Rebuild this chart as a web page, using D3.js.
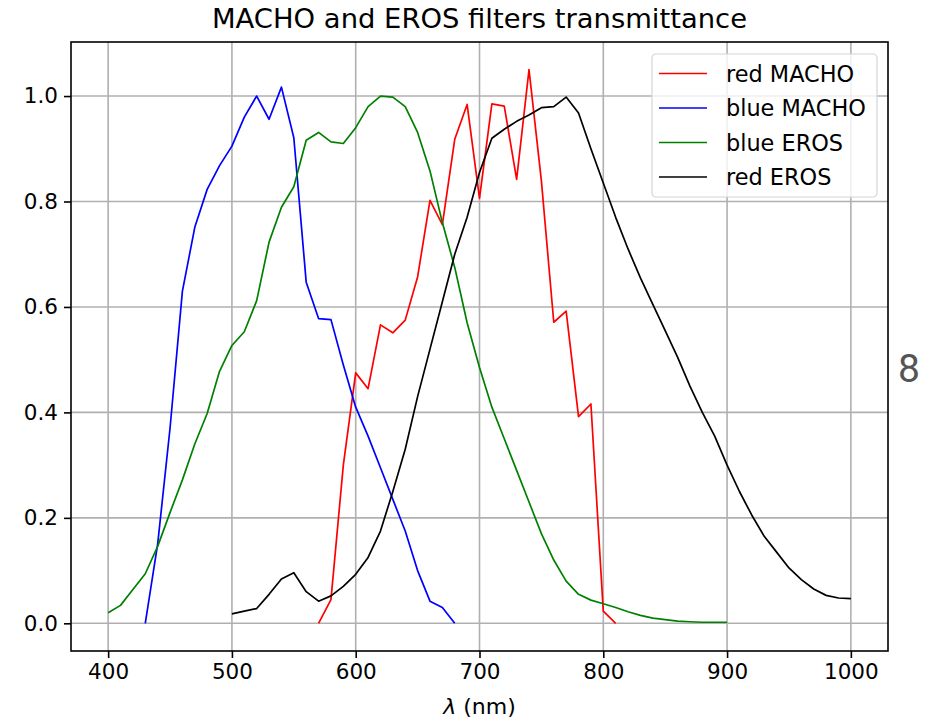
<!DOCTYPE html>
<html>
<head>
<meta charset="utf-8">
<script src="https://cdn.jsdelivr.net/npm/d3@7"></script>
<style>
  body { margin: 0; background: #fff; }
  svg { display: block; font-family: "DejaVu Sans", sans-serif; }
</style>
</head>
<body>
<div id="chart"></div>
<script>
// filter curves
var redMachoWl = [570, 580, 590, 600, 610, 620, 630, 640, 650, 660, 670, 680, 690, 700, 710, 720, 730, 740, 750, 760, 770, 780, 790, 800, 810];
var redMachoT = [0.0, 0.045, 0.30, 0.475, 0.445, 0.566, 0.551, 0.575, 0.657, 0.802, 0.756, 0.918, 0.984, 0.806, 0.985, 0.981, 0.842, 1.05, 0.839, 0.571, 0.592, 0.392, 0.416, 0.023, 0.0];

var blueMachoWl = [430, 440, 450, 460, 470, 480, 490, 500, 510, 520, 530, 540, 550, 560, 570, 580, 590, 600, 610, 620, 630, 640, 650, 660, 670, 680];
var blueMachoT = [0.0, 0.15, 0.37, 0.63, 0.751, 0.823, 0.868, 0.905, 0.96, 1.0, 0.956, 1.017, 0.921, 0.647, 0.578, 0.576, 0.49, 0.41, 0.355, 0.295, 0.235, 0.175, 0.10, 0.042, 0.03, 0.0];

var blueErosWl = [400, 410, 420, 430, 440, 450, 460, 470, 480, 490, 500, 510, 520, 530, 540, 550, 560, 570, 580, 590, 600, 610, 620, 630, 640, 650, 660, 670, 680, 690, 700, 710, 720, 730, 740, 750, 760, 770, 780, 790, 800, 810, 820, 830, 840, 850, 860, 870, 880, 890, 900];
var blueErosT = [0.02, 0.034, 0.064, 0.094, 0.146, 0.21, 0.272, 0.34, 0.398, 0.478, 0.527, 0.553, 0.612, 0.723, 0.789, 0.828, 0.916, 0.931, 0.913, 0.91, 0.94, 0.98, 1.0, 0.998, 0.98, 0.931, 0.858, 0.76, 0.675, 0.57, 0.485, 0.41, 0.35, 0.29, 0.23, 0.17, 0.12, 0.08, 0.055, 0.044, 0.037, 0.03, 0.022, 0.015, 0.01, 0.007, 0.004, 0.003, 0.002, 0.002, 0.002];

var redErosWl = [500, 510, 520, 530, 540, 550, 560, 570, 580, 590, 600, 610, 620, 630, 640, 650, 660, 670, 680, 690, 700, 710, 720, 730, 740, 750, 760, 770, 780, 790, 800, 810, 820, 830, 840, 850, 860, 870, 880, 890, 900, 910, 920, 930, 940, 950, 960, 970, 980, 990, 1000];
var redErosT = [0.018, 0.023, 0.028, 0.055, 0.084, 0.096, 0.06, 0.042, 0.052, 0.07, 0.093, 0.125, 0.175, 0.25, 0.33, 0.43, 0.52, 0.61, 0.70, 0.77, 0.855, 0.92, 0.937, 0.952, 0.964, 0.978, 0.98, 0.998, 0.968, 0.90, 0.835, 0.77, 0.71, 0.655, 0.605, 0.555, 0.505, 0.45, 0.40, 0.355, 0.30, 0.25, 0.205, 0.165, 0.135, 0.105, 0.083, 0.065, 0.053, 0.048, 0.047];

var xTicks = [400, 500, 600, 700, 800, 900, 1000];
var yTicks = [0.0, 0.2, 0.4, 0.6, 0.8, 1.0];

var series = [
  { name: "red MACHO", color: "#ff0000", wl: redMachoWl, t: redMachoT },
  { name: "blue MACHO", color: "#0000ff", wl: blueMachoWl, t: blueMachoT },
  { name: "blue EROS", color: "#008000", wl: blueErosWl, t: blueErosT },
  { name: "red EROS", color: "#000000", wl: redErosWl, t: redErosT }
];

var W = 929, H = 723;
var margin = { top: 42, right: 41, bottom: 72, left: 71 },
    width = W - margin.left - margin.right,
    height = H - margin.top - margin.bottom;

var svg = d3.select("#chart").append("svg")
    .attr("width", W)
    .attr("height", H);

var g = svg.append("g")
    .attr("transform", "translate(" + margin.left + "," + margin.top + ")");

var x = d3.scaleLinear().domain([370, 1030]).range([0, width]);
var y = d3.scaleLinear().domain([-0.0525, 1.1025]).range([height, 0]);

// grid
g.append("g").selectAll("line").data(xTicks).enter().append("line")
    .attr("x1", function(d) { return x(d); })
    .attr("x2", function(d) { return x(d); })
    .attr("y1", 0).attr("y2", height)
    .attr("stroke", "#b0b0b0").attr("stroke-width", 1.6);
g.append("g").selectAll("line").data(yTicks).enter().append("line")
    .attr("y1", function(d) { return y(d); })
    .attr("y2", function(d) { return y(d); })
    .attr("x1", 0).attr("x2", width)
    .attr("stroke", "#b0b0b0").attr("stroke-width", 1.6);

// curves
var line = d3.line()
    .x(function(d) { return x(d[0]); })
    .y(function(d) { return y(d[1]); });

g.selectAll(".curve").data(series).enter().append("path")
    .attr("class", "curve")
    .attr("fill", "none")
    .attr("stroke", function(d) { return d.color; })
    .attr("stroke-width", 1.7)
    .attr("stroke-linejoin", "round")
    .attr("d", function(d) { return line(d3.zip(d.wl, d.t)); });

// axes
var xAxis = d3.axisBottom(x).tickValues(xTicks).tickSize(7).tickPadding(6)
    .tickFormat(d3.format("d"));
var yAxis = d3.axisLeft(y).tickValues(yTicks).tickSize(7).tickPadding(6)
    .tickFormat(d3.format(".1f"));

var gx = g.append("g")
    .attr("transform", "translate(0," + height + ")")
    .call(xAxis);
var gy = g.append("g").call(yAxis);

[gx, gy].forEach(function(a) {
  a.select(".domain").remove();
  a.selectAll(".tick line").attr("stroke", "#000").attr("stroke-width", 1.6);
  a.selectAll(".tick text")
      .attr("fill", "#000")
      .style("font-family", "DejaVu Sans")
      .style("font-size", "21.5px");
});

// frame
g.append("rect")
    .attr("width", width).attr("height", height)
    .attr("fill", "none").attr("stroke", "#000").attr("stroke-width", 1.6);

// title and label
svg.append("text")
    .attr("x", margin.left + width / 2)
    .attr("y", 28)
    .attr("text-anchor", "middle")
    .style("font-size", "27.4px")
    .text("MACHO and EROS filters transmittance");

var xl = svg.append("text")
    .attr("x", margin.left + width / 2)
    .attr("y", 714)
    .attr("text-anchor", "middle")
    .style("font-size", "22px");
xl.append("tspan").style("font-style", "italic").text("λ");
xl.append("tspan").text(" (nm)");

// legend
var leg = svg.append("g").attr("transform", "translate(652,54)");
leg.append("rect")
    .attr("width", 225).attr("height", 143)
    .attr("rx", 4).attr("ry", 4)
    .attr("fill", "#fff").attr("fill-opacity", 0.8)
    .attr("stroke", "#d5d5d5").attr("stroke-width", 1.2);

var rows = leg.selectAll(".row").data(series).enter().append("g")
    .attr("class", "row")
    .attr("transform", function(d, i) { return "translate(0," + (19.5 + i * 34.5) + ")"; });
rows.append("line")
    .attr("x1", 7).attr("x2", 55)
    .attr("stroke", function(d) { return d.color; })
    .attr("stroke-width", 1.7);
rows.append("text")
    .attr("x", 74).attr("dy", "0.36em")
    .style("font-size", "22.4px")
    .text(function(d) { return d.name; });

// stray glyph at the right edge of the source image
svg.append("text")
    .attr("x", 898).attr("y", 382)
    .attr("fill", "#555")
    .style("font-family", "Roboto, sans-serif")
    .style("font-size", "39px")
    .text("8");
</script>
</body>
</html>
